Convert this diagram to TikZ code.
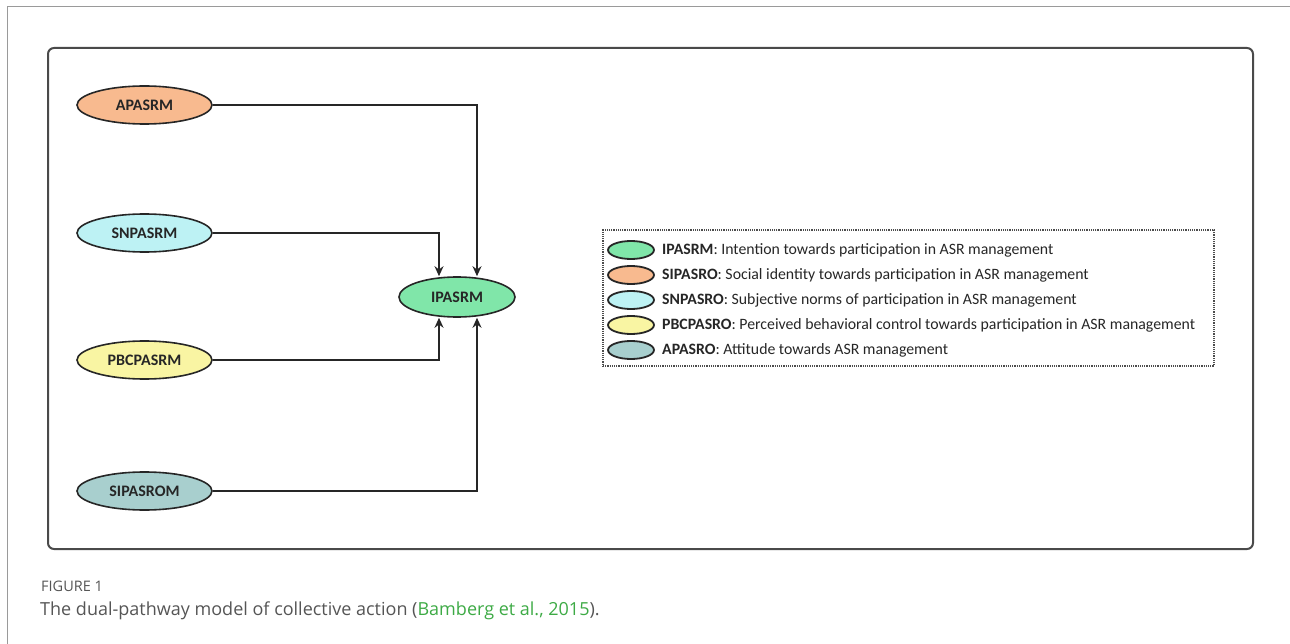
\documentclass[tikz,border=0pt]{standalone}
\usepackage{fontspec}
\setmainfont{Carlito}
\newfontfamily\capfont{Open Sans}
\usetikzlibrary{shapes.geometric,arrows.meta,calc}
\definecolor{cAP}{HTML}{F8BA8F}
\definecolor{cSN}{HTML}{BDF2F4}
\definecolor{cPB}{HTML}{F9F5A3}
\definecolor{cSI}{HTML}{A8CFCE}
\definecolor{cIP}{HTML}{80E6A9}
\definecolor{framegray}{HTML}{9A9A9A}
\definecolor{boxgray}{HTML}{4A4A4A}
\definecolor{capgray}{HTML}{555555}
\definecolor{citegreen}{HTML}{3DAA45}
\tikzset{
  construct/.style={ellipse, draw=black!85, line width=1.6pt, minimum width=135pt, minimum height=38pt, inner sep=0pt, font=\fontsize{16}{18}\selectfont\bfseries, text=black!85},
  legell/.style={ellipse, draw=black!85, line width=1.8pt, minimum width=46pt, minimum height=18pt, inner sep=0pt},
  legtext/.style={anchor=west, inner sep=0pt, font=\fontsize{15.8}{18}\selectfont, text=black!85},
  arr/.style={draw=black!85, line width=1.6pt, -{Stealth[length=10pt,width=9pt]}}
}
\begin{document}
\begin{tikzpicture}[x=1pt,y=-1pt]
\useasboundingbox (0,0) rectangle (1290,644);
% page frame
\draw[framegray, line width=1pt] (7,644) -- (7,7) -- (1290,7);
% main box
\draw[boxgray, line width=2pt, rounded corners=6pt] (48,48) rectangle (1253,549);
% constructs
\node[construct, fill=cAP] (ap) at (144.5,105) {APASRM};
\node[construct, fill=cSN] (sn) at (144.5,233) {SNPASRM};
\node[construct, fill=cPB] (pb) at (144.5,360) {PBCPASRM};
\node[construct, fill=cSI] (si) at (144.5,491) {SIPASROM};
\node[construct, fill=cIP, minimum width=116pt, minimum height=40pt] (ip) at (457,297) {IPASRM};
% connectors
\draw[arr] (ap.east) -| ([xshift=20pt]ip.north);
\draw[arr] (sn.east) -| ([xshift=-18pt]ip.north);
\draw[arr] (pb.east) -| ([xshift=-18pt]ip.south);
\draw[arr] (si.east) -| ([xshift=20pt]ip.south);
% legend
\node[draw=black!70, densely dotted, line width=1.2pt, minimum width=611pt, minimum height=136pt, inner sep=0pt] (leg) at (908.5,298) {};
\node[legell, fill=cIP] (l1) at (631,250) {};
\node[legell, fill=cAP] (l2) at (631,275) {};
\node[legell, fill=cSN] (l3) at (631,300) {};
\node[legell, fill=cPB] (l4) at (631,325) {};
\node[legell, fill=cSI] (l5) at (631,350) {};
\node[legtext] (t1) at (662,250) {\textbf{IPASRM}: Intention towards participation in ASR management};
\node[legtext] (t2) at (662,275) {\textbf{SIPASRO}: Social identity towards participation in ASR management};
\node[legtext] (t3) at (662,300) {\textbf{SNPASRO}: Subjective norms of participation in ASR management};
\node[legtext] (t4) at (662,325) {\textbf{PBCPASRO}: Perceived behavioral control towards participation in ASR management};
\node[legtext] (t5) at (662,350) {\textbf{APASRO}: Attitude towards ASR management};
% caption
\node[anchor=base west, inner sep=0pt, font=\capfont\fontsize{14.5}{16}\selectfont, text=capgray] (fig) at (41,591) {FIGURE 1};
\node[anchor=base west, inner sep=0pt, font=\capfont\fontsize{18}{20}\selectfont, text=capgray] (cap) at (40,615) {The dual-pathway model of collective action (\textcolor{citegreen}{Bamberg et al., 2015}).};
\end{tikzpicture}
\end{document}
